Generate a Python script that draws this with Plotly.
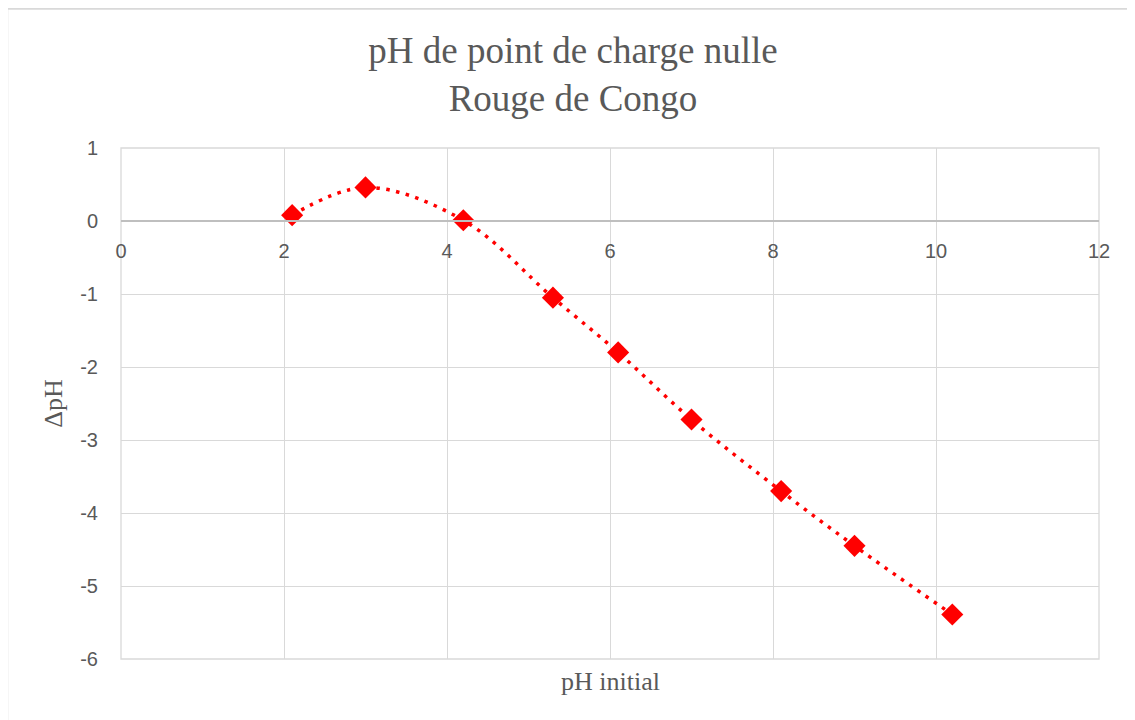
import plotly.graph_objects as go

# readings
ph_initial = [2.1, 3.0, 4.2, 5.3, 6.1, 7.0, 8.1, 9.0, 10.2]
delta_ph = [0.08, 0.46, 0.01, -1.05, -1.80, -2.72, -3.70, -4.45, -5.39]

x_ticks = [0, 2, 4, 6, 8, 10, 12]
y_ticks = [1, 0, -1, -2, -3, -4, -5, -6]

W, H = 1135, 720
OFF = 8  # page body margin shifts the figure by 8px
L, T = 121 - OFF, 148 - OFF
R, B = W - (1099 - OFF), H - (659 - OFF)

grey_txt = "#595959"
serif = "Liberation Serif, Times New Roman, serif"
sans = "Liberation Sans, Arial, sans-serif"

fig = go.Figure()

# smoothed dotted line behind the markers
fig.add_trace(go.Scatter(
    x=ph_initial, y=delta_ph,
    mode="lines",
    line=dict(color="#ff0000", width=3.5, dash="3.5px,6.5px", shape="spline", smoothing=1.0),
    hoverinfo="skip",
    showlegend=False,
))
fig.add_trace(go.Scatter(
    x=ph_initial, y=delta_ph,
    mode="markers",
    marker=dict(symbol="diamond", size=17, color="#ff0000"),
    showlegend=False,
))

ymin, ymax = -6, 1
zero_pos = (0 - ymin) / (ymax - ymin)

fig.update_layout(
    width=W, height=H,
    margin=dict(l=L, r=R, t=T, b=B),
    paper_bgcolor="white",
    plot_bgcolor="white",
    title=dict(
        text="pH de point de charge nulle<br>Rouge de Congo",
        x=(573 - OFF) / W, xanchor="center",
        y=1 - (63 - OFF) / H, yanchor="middle", yref="container",
        font=dict(family=serif, size=37, color=grey_txt),
    ),
    xaxis=dict(
        range=[0, 12],
        tickvals=x_ticks,
        ticktext=[str(v) for v in x_ticks],
        showgrid=True, gridcolor="#d9d9d9", gridwidth=1.3,
        zeroline=False,
        showline=True, linecolor="#bfbfbf", linewidth=1.8,
        anchor="free", position=zero_pos,
        ticks="outside", ticklen=12, tickcolor="rgba(0,0,0,0)",
        tickfont=dict(family=sans, size=20, color=grey_txt),
    ),
    yaxis=dict(
        range=[ymin, ymax],
        tickvals=y_ticks,
        ticktext=[str(v) for v in y_ticks],
        showgrid=True, gridcolor="#d9d9d9", gridwidth=1.3,
        zeroline=False,
        showline=False,
        ticks="outside", ticklen=18, tickcolor="rgba(0,0,0,0)",
        tickfont=dict(family=sans, size=20, color=grey_txt),
        title=dict(text="ΔpH", standoff=10, font=dict(family=serif, size=26, color=grey_txt)),
    ),
)

pw, ph = W - L - R, H - T - B

# x-axis title sits at the bottom, below the plot area
fig.add_annotation(
    text="pH initial",
    xref="paper", yref="paper",
    x=0.5, y=-(681 - 659) / ph,
    xanchor="center", yanchor="middle",
    showarrow=False,
    font=dict(family=serif, size=26, color=grey_txt),
)

# plot-area frame (edge gridlines)
fig.add_shape(
    type="rect", xref="paper", yref="paper",
    x0=0, x1=1, y0=0, y1=1,
    line=dict(color="#d9d9d9", width=1.3),
    layer="below",
)

# outer chart border (only top/left visible in the reference crop)
fig.add_shape(
    type="rect", xref="paper", yref="paper",
    x0=(7 - 121) / pw, x1=(W + 40 - 121) / pw,
    y0=-(H + 40 - 659) / ph, y1=(659 - 8.5) / ph,
    line=dict(color="#d9d9d9", width=2.5),
    layer="below",
)

fig.write_html("out.html")
